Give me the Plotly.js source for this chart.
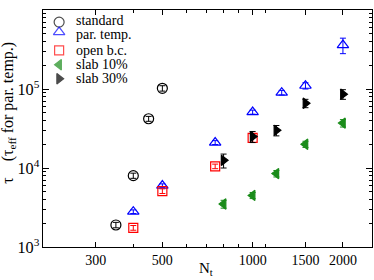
<!DOCTYPE html>
<html><head><meta charset="utf-8">
<script src="https://cdn.plot.ly/plotly-3.0.1.min.js"></script>
<style>body{margin:0;padding:0;background:#fff}#c{width:374px;height:280px}</style>
</head><body><div id="c"></div>
<script>
// standard
const stdN = [350, 400, 450, 500];
const stdTau = [1900, 8000, 42000, 102000];
const stdErr = [150, 600, 3000, 8000];
// par. temp.
const ptN = [400, 500, 750, 1000, 1250, 1500, 2000];
const ptTau = [2800, 6000, 21000, 51000, 90000, 110000, 360000];
const ptErr = [150, 300, 1200, 3000, 6000, 10000, 80000];
// open b.c.
const obcN = [400, 500, 750, 1000];
const obcTau = [1750, 5100, 10500, 24000];
const obcErr = [120, 350, 700, 3000];
// slab 10%
const s10N = [800, 1000, 1200, 1500, 2000];
const s10Tau = [3500, 4500, 8500, 20000, 37000];
const s10Err = [400, 400, 800, 1800, 4000];
// slab 30%
const s30N = [800, 1000, 1200, 1500, 2000];
const s30Tau = [12500, 25000, 30000, 66000, 86000];
const s30Err = [2500, 4000, 4500, 8000, 12000];

const seriesNames = ['standard', 'par. temp.', 'open b.c.', 'slab 10%', 'slab 30%'];
const xTicks = [300, 500, 1000, 1500, 2000];
const xTickText = ['300', '500', '1000', '1500', '2000'];
const xMinor = [400, 600, 700, 800, 900, 1100];

const symbols = ['circle-open', 'triangle-up-open', 'square-open', 'triangle-left', 'triangle-right'];
const colors = ['#000000', '#0000ff', '#ff0000', '#1a8c1a', '#000000'];
const sizes = [10, 10, 9, 9, 9];

function tr(i, x, y, e) {
  return {
    type: 'scatter', mode: 'markers', name: seriesNames[i], x: x, y: y, showlegend: false,
    error_y: {type: 'data', array: e, visible: true, color: colors[i], thickness: 1, width: 3},
    marker: {symbol: symbols[i], color: colors[i], size: sizes[i], line: {color: colors[i], width: 1.2}}
  };
}
const data = [
  tr(0, stdN, stdTau, stdErr),
  tr(1, ptN, ptTau, ptErr),
  tr(2, obcN, obcTau, obcErr),
  tr(3, s10N, s10Tau, s10Err),
  tr(4, s30N, s30Tau, s30Err)
];
// legend (drawn on a hidden overlay axis so rows can be packed as in the reference)
const legSymY = [0.949, 0.907, 0.830, 0.769, 0.710];
const legTextY = [0.957, 0.896, 0.831, 0.768, 0.709];
data.push({
  type: 'scatter', mode: 'markers', xaxis: 'x2', yaxis: 'y2', showlegend: false, hoverinfo: 'skip',
  x: seriesNames.map(() => 0.049), y: legSymY,
  marker: {symbol: symbols, color: colors, size: sizes, line: {color: colors, width: 1.2}}
});
const F = 'Liberation Serif, Times New Roman, serif';
const annotations = seriesNames.map((n, i) => ({
  xref: 'paper', yref: 'paper', x: 0.094, y: legTextY[i], xanchor: 'left', yanchor: 'middle',
  text: n, showarrow: false, font: {family: F, size: 14, color: '#000'}
}));
annotations.push({
  xref: 'paper', yref: 'paper', x: -0.106, y: 0.567, xanchor: 'center', yanchor: 'middle', textangle: -90,
  text: 'τ    (τ<sub>eff</sub> for par. temp.)', showarrow: false, font: {family: F, size: 16, color: '#000'}
});
annotations.push({
  xref: 'paper', yref: 'paper', x: 0.495, y: -0.092, xanchor: 'center', yanchor: 'middle',
  text: 'N<sub>t</sub>', showarrow: false, font: {family: F, size: 15, color: '#000'}
});
const layout = {
  width: 374, height: 280,
  margin: {l: 43, r: 2, t: 10, b: 33},
  paper_bgcolor: '#fff', plot_bgcolor: '#fff',
  font: {family: F, size: 13, color: '#000'},
  showlegend: false,
  annotations: annotations,
  xaxis: {
    type: 'log', range: [Math.log10(200), Math.log10(2500)],
    tickmode: 'array', tickvals: xTicks, ticktext: xTickText,
    ticks: 'inside', ticklen: 5, tickcolor: '#000', mirror: 'allticks',
    showline: true, linecolor: '#000', linewidth: 1, showgrid: false, zeroline: false,
    minor: {tickmode: 'array', tickvals: xMinor, ticks: 'inside', ticklen: 3, tickcolor: '#000', showgrid: false},
    tickfont: {family: F, size: 14}
  },
  yaxis: {
    type: 'log', range: [3, 6], dtick: 1, exponentformat: 'power',
    ticks: 'inside', ticklen: 6, tickcolor: '#000', mirror: 'allticks',
    showline: true, linecolor: '#000', linewidth: 1, showgrid: false, zeroline: false,
    minor: {dtick: 'D1', ticks: 'inside', ticklen: 3, tickcolor: '#000', showgrid: false},
    tickfont: {family: F, size: 13}
  },
  xaxis2: {overlaying: 'x', range: [0, 1], visible: false, fixedrange: true},
  yaxis2: {overlaying: 'y', range: [0, 1], visible: false, fixedrange: true}
};
Plotly.newPlot('c', data, layout, {displayModeBar: false, staticPlot: true});
</script></body></html>
